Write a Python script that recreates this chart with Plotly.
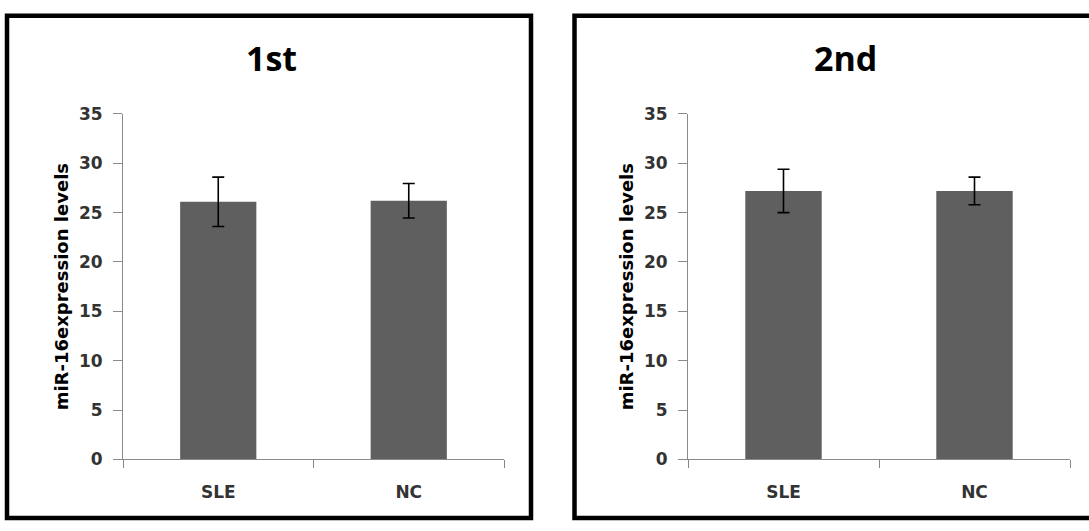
import plotly.graph_objects as go

categories = ["SLE", "NC"]
first_means = [26.1, 26.2]
first_errors = [2.5, 1.75]
second_means = [27.2, 27.2]
second_errors = [2.2, 1.4]
panel_titles = ["1st", "2nd"]
y_title = "miR-16expression levels"
y_ticks = [0, 5, 10, 15, 20, 25, 30, 35]

W, H = 1089, 531
FONT = "DejaVu Sans"
TFONT = "Open Sans"
BAR = "#5f5f5f"
AXIS = "#8a8a8a"
TXT = "#333333"

def px_x(x):
    return x / W

def px_y(y):
    return 1 - y / H

fig = go.Figure()
for i, (m, e) in enumerate([(first_means, first_errors), (second_means, second_errors)]):
    fig.add_trace(go.Bar(
        x=categories, y=m,
        marker=dict(color=BAR, line=dict(width=0)),
        error_y=dict(type="data", array=e, color="black", thickness=1.6, width=6),
        xaxis="x" if i == 0 else "x2",
        yaxis="y" if i == 0 else "y2",
        showlegend=False,
    ))

ydom = [px_y(467), px_y(108)]
xdoms = [[px_x(123), px_x(504)], [px_x(688), px_x(1070)]]

common_x = dict(
    type="category", showline=True, linecolor=AXIS, linewidth=1,
    ticks="outside", tickson="boundaries", ticklen=8, tickcolor=AXIS,
    showgrid=False, zeroline=False,
    tickfont=dict(family=FONT, size=17, color=TXT, weight="bold"),
    ticklabelstandoff=17,
)
common_y = dict(
    range=[0, 35], tickvals=y_ticks, showline=True, linecolor=AXIS, linewidth=1,
    ticks="outside", ticklen=9, tickcolor=AXIS, showgrid=False, zeroline=False,
    tickfont=dict(family=FONT, size=17, color=TXT, weight="bold"),
    ticklabelstandoff=7,
    title=dict(text=y_title, font=dict(family=FONT, size=18, color="black", weight="bold"), standoff=5),
)

fig.update_layout(
    width=W, height=H, margin=dict(l=0, r=0, t=0, b=0),
    paper_bgcolor="white", plot_bgcolor="white",
    bargap=0.6,
    xaxis=dict(domain=xdoms[0], anchor="y", **common_x),
    yaxis=dict(domain=ydom, anchor="x", **common_y),
    xaxis2=dict(domain=xdoms[1], anchor="y2", **common_x),
    yaxis2=dict(domain=ydom, anchor="x2", **common_y),
)

for cx, t in zip([271, 845], panel_titles):
    fig.add_annotation(text=t, x=px_x(cx), y=px_y(50), xref="paper", yref="paper",
                       showarrow=False, xanchor="center", yanchor="middle",
                       font=dict(family=TFONT, size=34, color="black", weight="bold"))

for x0, x1 in [(7, 531), (574.5, 1100)]:
    fig.add_shape(type="rect", xref="paper", yref="paper",
                  x0=px_x(x0), x1=px_x(x1), y0=px_y(528), y1=px_y(6),
                  line=dict(color="black", width=4.5), fillcolor="rgba(0,0,0,0)")

fig.write_html(
    "out.html",
    config={"displayModeBar": False},
    post_script="document.body.style.margin='0';document.documentElement.style.overflow='hidden';",
)
